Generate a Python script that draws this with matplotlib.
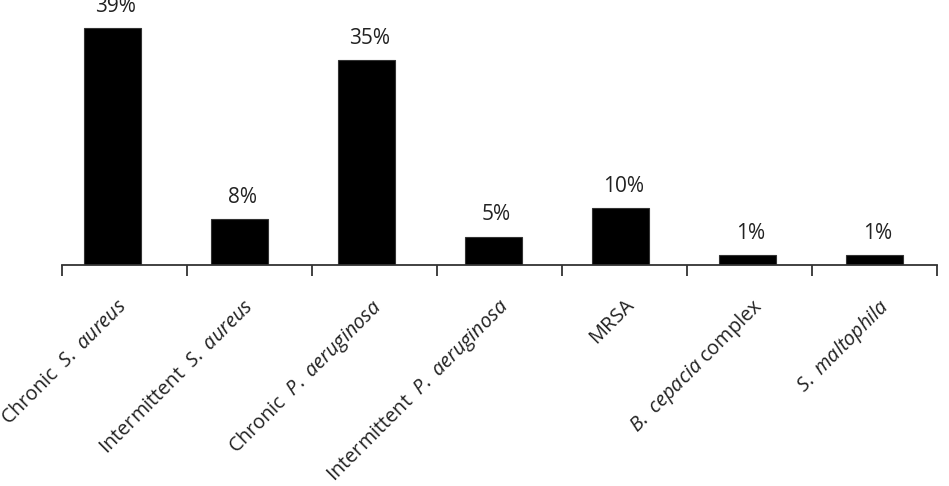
import numpy as np
import matplotlib
matplotlib.use('Agg')
import matplotlib.pyplot as plt
from matplotlib.transforms import ScaledTranslation

# data (bar heights in % units, printed labels)
categories = [r'Chronic  $\it{S.\ aureus}$',
              r'Intermittent  $\it{S.\ aureus}$',
              r'Chronic  $\it{P.\ aeruginosa}$',
              r'Intermittent  $\it{P.\ aeruginosa}$',
              r'$\mathrm{MRSA}$',
              r'$\it{B.\ cepacia}$ complex',
              r'$\it{S.\ maltophila}$']
heights = [41.6, 8.0, 36.0, 5.0, 10.0, 1.7, 1.7]
value_labels = ['39%', '8%', '35%', '5%', '10%', '1%', '1%']

plt.rcParams['font.family'] = ['Open Sans', 'DejaVu Sans']
plt.rcParams['mathtext.fontset'] = 'custom'
plt.rcParams['mathtext.it'] = 'Open Sans:italic'
plt.rcParams['mathtext.rm'] = 'Open Sans'

W, H = 949, 486
fig = plt.figure(figsize=(W / 100, H / 100), dpi=100)
ax = fig.add_axes([62 / W, 1 - 265 / H, 875 / W, 265 / H])

x = np.arange(len(categories))
ax.bar(x, heights, width=0.45, color='black', edgecolor='#333333', linewidth=0.8)

for xi, h, lab in zip(x, heights, value_labels):
    ax.annotate(lab, (xi, h), xytext=(2, 8), textcoords='offset points',
                ha='center', va='bottom', fontsize=15, color='#222222',
                annotation_clip=False)

ax.set_xlim(-0.3976, 6.492)
ax.set_ylim(0, 46.5)

for s in ['top', 'right', 'left']:
    ax.spines[s].set_visible(False)
ax.spines['bottom'].set_color('#333333')
ax.spines['bottom'].set_linewidth(1.3)
ax.set_yticks([])

# separator ticks between categories
ax.set_xticks(np.linspace(-0.3976, 6.492, 8), minor=True)
ax.tick_params(axis='x', which='minor', length=8, width=1.3, color='#333333', direction='out')
ax.set_xticks(x)
ax.set_xticklabels(categories, rotation=45, rotation_mode='anchor',
                   ha='right', va='center_baseline', fontsize=14.3, color='#222222')
ax.tick_params(axis='x', which='major', length=0, pad=26)
for t in ax.get_xticklabels():
    t.set_transform(t.get_transform() + ScaledTranslation(10 / 100, 0, fig.dpi_scale_trans))

fig.savefig('out.png', dpi=100)
